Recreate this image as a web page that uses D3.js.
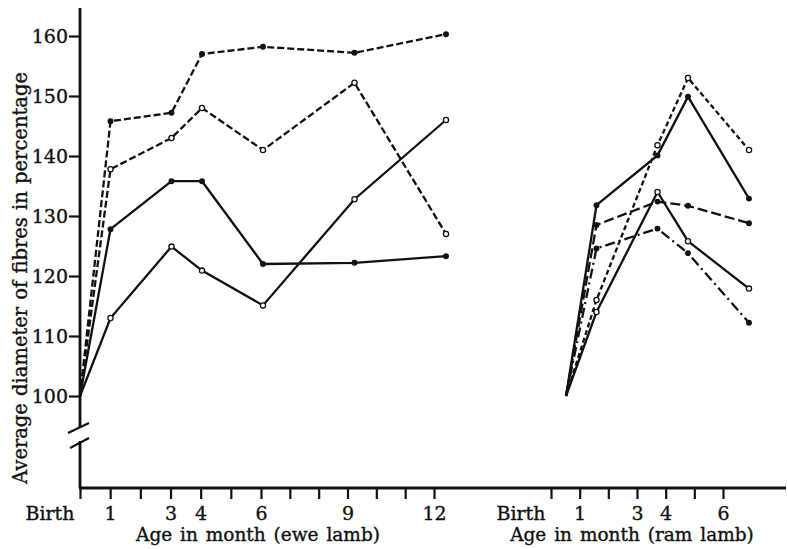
<!DOCTYPE html>
<html>
<head>
<meta charset="utf-8">
<script src="https://cdnjs.cloudflare.com/ajax/libs/d3/7.8.5/d3.min.js"></script>
<style>
  body { margin: 0; background: #fff; }
  text { font-family: "DejaVu Serif", serif; fill: #111; stroke: #111; stroke-width: 0.35px; }
</style>
</head>
<body>
<div id="graph"></div>
<script>
// donnees
const eweMonths = [0, 1, 3, 4, 6, 9, 12];
const eweDashFilled = [100, 145.8, 147.2, 157, 158.2, 157.2, 160.3];
const eweDashOpen = [100, 137.8, 143, 148, 141, 152.2, 127];
const eweSolidFilled = [100, 127.8, 135.8, 135.8, 122, 122.2, 123.3];
const eweSolidOpen = [100, 113, 124.9, 120.9, 115.1, 132.8, 146];

const ramMonths = [0, 1, 3, 4, 6];
const ramDashOpen = [100, 116, 141.8, 153, 141];
const ramSolidFilled = [100, 131.8, 140.1, 149.9, 132.9];
const ramLongDash = [100, 128.5, 132.4, 131.7, 128.8];
const ramSolidOpen = [100, 114, 134, 125.8, 117.9];
const ramDashDot = [100, 124.6, 127.9, 123.8, 112.2];

const yTicks = [100, 110, 120, 130, 140, 150, 160];
const eweTickMonths = d3.range(0, 13);
const eweTickLabels = {0: 'Birth', 1: '1', 3: '3', 4: '4', 6: '6', 9: '9', 12: '12'};
const ramTickMonths = d3.range(0, 7);
const ramTickLabels = {0: 'Birth', 1: '1', 3: '3', 4: '4', 6: '6'};

let width = 788;
let height = 549;

let svg = d3.select('#graph').append('svg')
    .attr('width', width)
    .attr('height', height);

// echelles
let y = d3.scaleLinear().domain([100, 160]).range([396, 36]);
let xEwe = d3.scaleLinear().domain([0, 12]).range([80, 446]);
let xEweTick = d3.scaleLinear().domain([0, 6, 12]).range([80, 261, 434]);
let xRam = d3.scaleLinear().domain([0, 6]).range([566, 749]);
let xRamTick = d3.scaleLinear().domain([0, 6]).range([551, 723]);

let axisY0 = 488;

// axe Y
let yAxis = svg.append('g')
    .attr('transform', 'translate(80,0)')
    .call(d3.axisLeft(y).tickValues(yTicks).tickSize(11).tickPadding(1).tickSizeOuter(0));
yAxis.select('.domain').remove();
yAxis.selectAll('line').attr('stroke', '#111').attr('stroke-width', 2.2);
yAxis.selectAll('text').style('font-size', '19px').attr('dy', '0.36em');

svg.append('line').attr('x1', 80).attr('x2', 80).attr('y1', 8).attr('y2', 428)
    .attr('stroke', '#111').attr('stroke-width', 2.8);
svg.append('line').attr('x1', 80).attr('x2', 80).attr('y1', 441).attr('y2', axisY0)
    .attr('stroke', '#111').attr('stroke-width', 2.8);
// coupure
svg.append('line').attr('x1', 68).attr('y1', 433).attr('x2', 89).attr('y2', 423)
    .attr('stroke', '#111').attr('stroke-width', 2.2);
svg.append('line').attr('x1', 70).attr('y1', 448).attr('x2', 89).attr('y2', 438)
    .attr('stroke', '#111').attr('stroke-width', 2.2);

// axe X
svg.append('line').attr('x1', 79).attr('x2', 786).attr('y1', axisY0).attr('y2', axisY0)
    .attr('stroke', '#111').attr('stroke-width', 2.8);

function drawXAxis(scale, months, labels) {
    let g = svg.append('g')
        .attr('transform', 'translate(0,' + axisY0 + ')')
        .call(d3.axisBottom(scale).tickValues(months).tickSize(11).tickPadding(8).tickSizeOuter(0)
            .tickFormat(d => labels[d] || ''));
    g.select('.domain').remove();
    g.selectAll('line').attr('stroke', '#111').attr('stroke-width', 2.2);
    g.selectAll('text').style('font-size', '19px')
        .attr('text-anchor', d => d === 0 ? 'end' : 'middle')
        .attr('dx', d => d === 0 ? '-6' : '0');
}
drawXAxis(xEweTick, eweTickMonths, eweTickLabels);
drawXAxis(xRamTick, ramTickMonths, ramTickLabels);

// titres
svg.append('text').attr('x', 258).attr('y', 541).attr('text-anchor', 'middle')
    .style('font-size', '18.5px').style('word-spacing', '2px').text('Age in month (ewe lamb)');
svg.append('text').attr('x', 632).attr('y', 541).attr('text-anchor', 'middle')
    .style('font-size', '18.5px').style('word-spacing', '2px').text('Age in month (ram lamb)');
svg.append('text')
    .attr('transform', 'translate(27,278) rotate(-90)')
    .attr('text-anchor', 'middle')
    .style('font-size', '19.5px')
    .style('word-spacing', '1px')
    .text('Average diameter of fibres in percentage');

// courbes
function drawSeries(xs, months, values, dash, open) {
    let pts = months.map((m, i) => [xs(m), y(values[i])]);
    svg.append('path')
        .attr('d', d3.line()(pts))
        .attr('fill', 'none')
        .attr('stroke', '#111')
        .attr('stroke-width', 2.3)
        .attr('stroke-dasharray', dash);
    svg.append('g').selectAll('circle')
        .data(pts.slice(1))
        .join('circle')
        .attr('cx', d => d[0])
        .attr('cy', d => d[1])
        .attr('r', open ? 2.6 : 2.3)
        .attr('fill', open ? '#fff' : '#111')
        .attr('stroke', '#111')
        .attr('stroke-width', 1.3);
}

drawSeries(xEwe, eweMonths, eweDashFilled, '7,3', false);
drawSeries(xEwe, eweMonths, eweDashOpen, '7,3', true);
drawSeries(xEwe, eweMonths, eweSolidFilled, null, false);
drawSeries(xEwe, eweMonths, eweSolidOpen, null, true);

drawSeries(xRam, ramMonths, ramDashOpen, '5,3', true);
drawSeries(xRam, ramMonths, ramSolidFilled, null, false);
drawSeries(xRam, ramMonths, ramLongDash, '10,4', false);
drawSeries(xRam, ramMonths, ramSolidOpen, null, true);
drawSeries(xRam, ramMonths, ramDashDot, '10,4,2,4', false);
</script>
</body>
</html>
